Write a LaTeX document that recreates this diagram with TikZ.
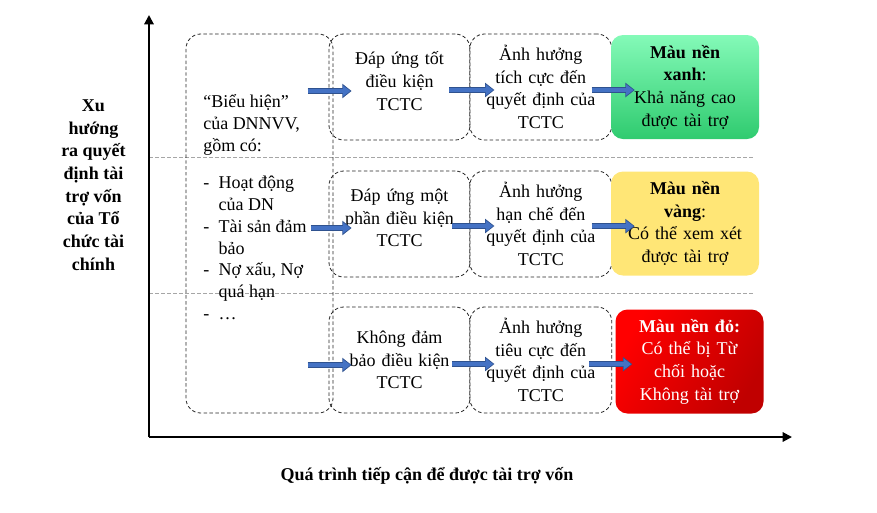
\documentclass[tikz,border=0pt]{standalone}
\usepackage{fontspec}
\setmainfont{Liberation Serif}
\usepackage{tikz}
\usetikzlibrary{positioning,arrows.meta}
\definecolor{BoxLine}{HTML}{262626}
\definecolor{GridGrey}{HTML}{A6A6A6}
\definecolor{ArrowBlue}{HTML}{4472C4}
\definecolor{ArrowEdge}{HTML}{2F528F}
\definecolor{GreenTop}{HTML}{84FAB8}
\definecolor{GreenBot}{HTML}{2FCB6F}
\definecolor{YellowFill}{HTML}{FFE676}
\definecolor{RedTop}{HTML}{FF0000}
\definecolor{RedBot}{HTML}{C00000}
\newcommand{\txtfont}{\fontsize{13.5}{17}\selectfont}

\begin{document}
\begin{tikzpicture}[x=0.75pt,y=-0.75pt,>={Triangle[length=7pt,width=7pt]},node distance=0pt]
  \tikzstyle{dbox}=[draw=BoxLine,line width=0.6pt,dash pattern=on 2.6pt off 1.8pt,
    rounded corners=11pt,minimum width=105.75pt,minimum height=79.5pt,text width=100pt,
    align=center,inner sep=0pt,font=\txtfont]
  \tikzstyle{cbox}=[rounded corners=9pt,minimum width=111pt,minimum height=78pt,
    text width=105pt,align=center,inner sep=0pt,font=\txtfont]
  \tikzstyle{sep}=[draw=GridGrey,dash pattern=on 3pt off 1.5pt,line width=0.6pt]
  \tikzstyle{axis}=[->,line width=1.5pt]
  \tikzstyle{blk}=[draw=ArrowBlue,line width=3.2pt,-{Triangle[length=5.6pt,width=8pt]},
    shorten >=0.9pt,preaction={draw=ArrowEdge,line width=4.8pt,shorten >=0pt,
    -{Triangle[length=7pt,width=10.5pt]}}]
  \useasboundingbox (0,0) rectangle (877,512);

  % axes and row separators
  \coordinate (orig) at (149,437);
  \coordinate (ytip) at (149,15);
  \coordinate (xtip) at (792,437);
  \draw[sep] (149,157) -- (755,157);
  \draw[sep] (149,293) -- (755,293);
  \draw[axis] (orig) -- (ytip);
  \draw[axis] (orig) -- (xtip);

  \node[font=\txtfont\bfseries,align=center] (ylab) at (93.5,185)
    {Xu\\hướng\\ra quyết\\định tài\\trợ vốn\\của Tổ\\chức tài\\chính};
  \node[font=\txtfont\bfseries] (xlab) at (427,476)
    {Quá trình tiếp cận để được tài trợ vốn};

  % left column
  \node[dbox,minimum width=110.25pt,minimum height=284.25pt] (lst) at (259.5,223.5) {};
  \node[font=\txtfont,anchor=north west,inner sep=0pt] (lsttxt) at (203,92)
    {\renewcommand{\arraystretch}{0.96}%
     \begin{tabular}{@{}l@{\hspace{7pt}}l@{}}
      \multicolumn{2}{@{}l@{}}{“Biểu hiện”}\\
      \multicolumn{2}{@{}l@{}}{của DNNVV,}\\
      \multicolumn{2}{@{}l@{}}{gồm có:}\\[12pt]
      - & Hoạt động\\
        & của DN\\
      - & Tài sản đảm\\
        & bảo\\
      - & Nợ xấu, Nợ\\
        & quá hạn\\
      - & \dots
    \end{tabular}};

  % middle columns
  \node[dbox] (c1) at (399.5,87) {Đáp ứng tốt\\điều kiện\\TCTC\\[-8pt]\mbox{}};
  \node[dbox] (c2) at (399.5,224) {Đáp ứng một\\phần điều kiện\\TCTC\\[-8pt]\mbox{}};
  \node[dbox] (c3) at (399.5,360) {Không đảm\\bảo điều kiện\\TCTC};
  \node[dbox,minimum width=106.5pt,right=of c1,xshift=-0.75pt] (a1)
    {Ảnh hưởng\\tích cực đến\\quyết định của\\TCTC};
  \node[dbox,minimum width=106.5pt,right=of c2,xshift=-0.75pt] (a2)
    {Ảnh hưởng\\hạn chế đến\\quyết định của\\TCTC};
  \node[dbox,minimum width=106.5pt,right=of c3,xshift=-0.75pt] (a3)
    {Ảnh hưởng\\tiêu cực đến\\quyết định của\\TCTC};

  % result boxes
  \node[cbox,top color=GreenTop,bottom color=GreenBot] (gb) at (685,87)
    {\textbf{Màu nền}\\\textbf{xanh}:\\Khả năng cao\\được tài trợ};
  \node[cbox,fill=YellowFill] (yb) at (685,223.5)
    {\textbf{Màu nền}\\\textbf{vàng}:\\Có thể xem xét\\được tài trợ};
  \node[cbox,left color=RedTop,right color=RedBot,shading angle=60,
    text=white] (rb) at (689.5,361.5)
    {\textbf{Màu nền đỏ:}\\Có thể bị Từ\\chối hoặc\\Không tài trợ};

  % block arrows
  \draw[blk] ([xshift=-15.75pt,yshift=-3pt]c1.west) -- ([xshift=17.25pt,yshift=-3pt]c1.west);
  \draw[blk] ([xshift=-13.5pt,yshift=-3pt]c2.west) -- ([xshift=17.25pt,yshift=-3pt]c2.west);
  \draw[blk] ([xshift=-15.75pt,yshift=-3.75pt]c3.west) -- ([xshift=17.25pt,yshift=-3.75pt]c3.west);
  \draw[blk] ([xshift=-15pt,yshift=-2.25pt]a1.west) -- ([xshift=18.75pt,yshift=-2.25pt]a1.west);
  \draw[blk] ([xshift=-12.75pt,yshift=-1.5pt]a2.west) -- ([xshift=18.75pt,yshift=-1.5pt]a2.west);
  \draw[blk] ([xshift=-12.75pt,yshift=-3pt]a3.west) -- ([xshift=18.75pt,yshift=-3pt]a3.west);
  \draw[blk] ([xshift=-14.25pt,yshift=-2.25pt]gb.west) -- ([xshift=18pt,yshift=-2.25pt]gb.west);
  \draw[blk] ([xshift=-14.25pt,yshift=-2pt]yb.west) -- ([xshift=18pt,yshift=-2pt]yb.west);
  \draw[blk] ([xshift=-19.5pt,yshift=-2pt]rb.west) -- ([xshift=12.75pt,yshift=-2pt]rb.west);
\end{tikzpicture}
\end{document}
